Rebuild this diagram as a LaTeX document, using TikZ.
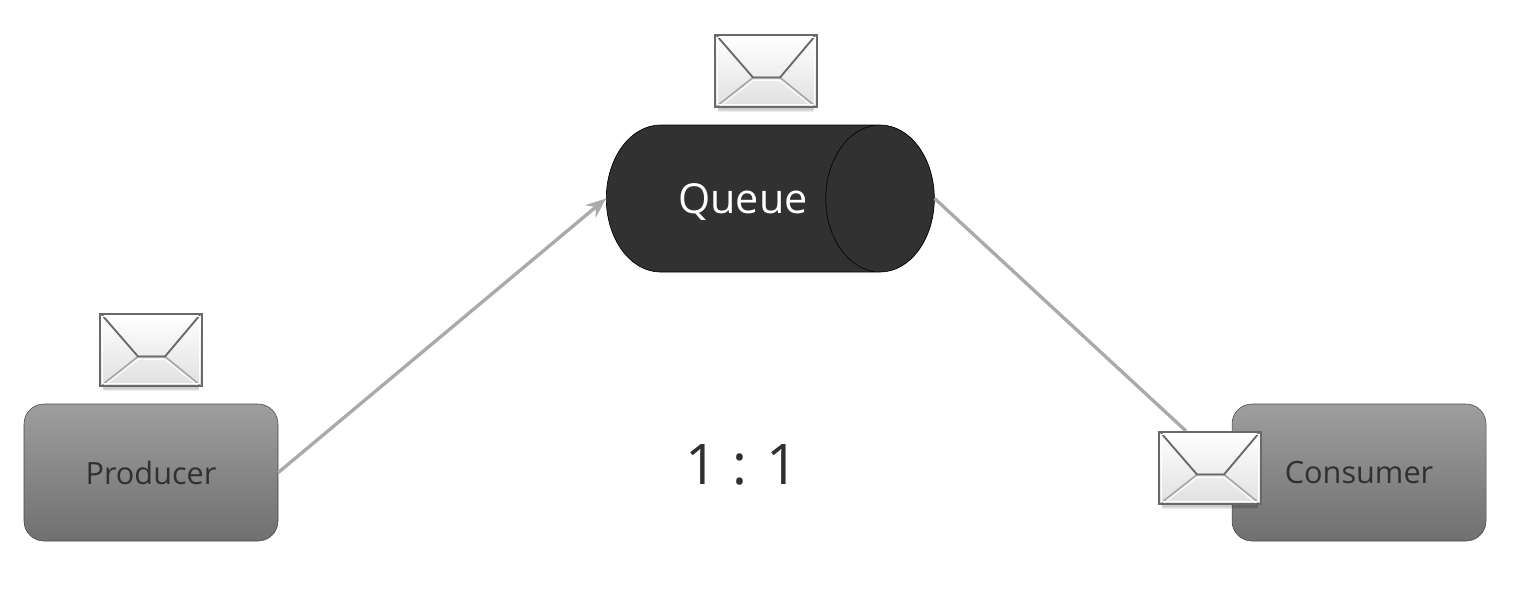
\documentclass[tikz,border=0pt]{standalone}
\usepackage{fontspec}
\setmainfont{Open Sans}
\usetikzlibrary{arrows.meta,positioning,shapes.geometric,shadows}
\definecolor{queuedark}{RGB}{49,49,49}
\definecolor{boxtop}{RGB}{158,158,158}
\definecolor{boxbottom}{RGB}{112,112,112}
\definecolor{boxline}{RGB}{70,70,70}
\definecolor{boxtext}{RGB}{48,48,48}
\definecolor{linkgray}{RGB}{170,170,170}
\definecolor{envline}{RGB}{105,105,105}

\begin{document}
\begin{tikzpicture}[
  x=.75pt,y=-.75pt,
  box/.style={
    draw=boxline,
    rounded corners=15pt,
    top color=boxtop,
    bottom color=boxbottom,
    minimum width=190.5pt,
    minimum height=102.75pt,
    text=boxtext,
    font=\fontsize{23}{27}\selectfont
  },
  tube/.style={
    cylinder,
    draw=black,
    line width=.5pt,
    cylinder uses custom fill,
    cylinder body fill=queuedark,
    cylinder end fill=queuedark,
    shape aspect=3.7,
    minimum height=246pt,
    minimum width=110.25pt,
    inner sep=0pt,
    text height=22pt,
    text depth=0pt,
    text=white,
    font=\fontsize{31}{36}\selectfont
  },
  softshadow/.style={
    general shadow={shadow xshift=0pt,shadow yshift=-#1,shadow scale=.95,fill=black,opacity=.07}
  },
  envelope/.style={
    draw=envline,
    line width=1.5pt,
    top color=white,
    bottom color=black!12,
    minimum width=76pt,
    minimum height=54pt,
    inner sep=0pt,
    softshadow=1.5pt,softshadow=2.5pt,softshadow=3.5pt,softshadow=4.5pt,softshadow=5.5pt,
    path picture={
      \begin{scope}[shift={(path picture bounding box.center)}]
        \draw[black!35,line width=1.2pt] (-49,35) -- (-13,6.5) -- (14,6.5) -- (49,35);
        \draw[white,line width=.7pt] (-46,35) -- (-13,9.5) -- (14,9.5) -- (46,35);
        \draw[envline,line width=1.4pt] (-49,-35) -- (-13,6.5) -- (14,6.5) -- (49,-35);
        \draw[white,line width=.8pt] (-48.5,-33.5) rectangle (48.5,33.5);
      \end{scope}
    }
  },
  arrow/.style={-{Stealth[length=15pt,width=12pt,inset=5pt]},line width=2.5pt,draw=linkgray},
  link/.style={line width=2.5pt,draw=linkgray}
]
\useasboundingbox (0,0) rectangle (1516,594);
\node[box] (producer) at (151,472.5) {Producer};
\node[box] (consumer) at (1359,472.5) {Consumer};
\node[tube] (queue) at (743,198.5) {Queue};
\node[font=\fontsize{42}{48}\selectfont,text=boxtext] (ratio) at (742,465) {1 : 1};
\coordinate (drop) at (1186,431);
\draw[arrow] (producer.east) -- (queue.bottom);
\draw[link] (queue.top) -- (drop);
\node[envelope] (msgsent) at (151,350) {};
\node[envelope] (msgqueued) at (766,71) {};
\node[envelope] (msgreceived) at (1210,468) {};
\end{tikzpicture}
\end{document}
